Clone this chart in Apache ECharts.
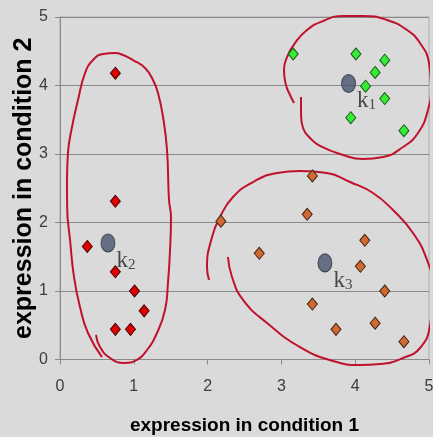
<!DOCTYPE html>
<html>
<head>
<meta charset="utf-8">
<script src="https://cdn.jsdelivr.net/npm/echarts@6/dist/echarts.min.js"></script>
<style>
  html, body { margin: 0; padding: 0; background: #dadada; }
  #chart { width: 433px; height: 437px; }
</style>
</head>
<body>
<div id="chart"></div>
<script>
// Axis ticks
const xTicks = [0, 1, 2, 3, 4, 5];
const yTicks = [0, 1, 2, 3, 4, 5];

// Genes per cluster: [expression in condition 1, expression in condition 2]
const cluster1 = [[3.16, 4.46], [4.01, 4.46], [4.40, 4.37], [4.27, 4.19], [4.14, 3.99],
                  [4.40, 3.81], [3.94, 3.53], [4.66, 3.34]];
const cluster2 = [[0.75, 4.18], [0.75, 2.31], [0.37, 1.65], [0.75, 1.28], [1.01, 1.00],
                  [1.14, 0.71], [0.75, 0.44], [0.955, 0.44]];
const cluster3 = [[3.42, 2.68], [3.35, 2.12], [2.18, 2.02], [2.70, 1.55], [4.13, 1.74],
                  [4.07, 1.36], [4.40, 1.00], [3.42, 0.81], [4.27, 0.53], [3.74, 0.44],
                  [4.66, 0.26]];

// Cluster centres k1..k3: [x, y, index]
const centroids = [[3.91, 4.03, '1'], [0.65, 1.70, '2'], [3.59, 1.41, '3']];

// Hand-drawn outlines around each cluster (data coordinates)
const outline1 = [[3.266, 3.832], [3.266, 3.569], [3.293, 3.380], [3.388, 3.234], [3.523, 3.117],
                  [3.835, 2.985], [4.106, 2.927], [4.377, 2.956], [4.648, 3.102], [4.851, 3.307],
                  [4.986, 3.642], [5.027, 3.978], [5.0, 4.328], [4.878, 4.620], [4.702, 4.810],
                  [4.431, 4.956], [4.106, 5.015], [3.835, 5.015], [3.564, 4.942], [3.347, 4.810],
                  [3.184, 4.620], [3.076, 4.416], [3.035, 4.226], [3.062, 4.007], [3.117, 3.861],
                  [3.171, 3.745]];
const outline2 = [[0.488, 0.358], [0.542, 0.182], [0.678, 0.022], [0.867, -0.05], [1.043, -0.007],
                  [1.179, 0.139], [1.314, 0.387], [1.423, 0.723], [1.463, 1.117], [1.491, 1.599],
                  [1.504, 2.080], [1.477, 2.328], [1.450, 3.058], [1.396, 3.540], [1.328, 3.891],
                  [1.260, 4.080], [1.152, 4.255], [0.989, 4.372], [0.854, 4.445], [0.745, 4.474],
                  [0.583, 4.460], [0.447, 4.372], [0.339, 4.182], [0.244, 3.788], [0.163, 3.394],
                  [0.108, 3.015], [0.095, 2.620], [0.097, 2.226], [0.136, 1.745], [0.190, 1.204],
                  [0.271, 0.766], [0.379, 0.387], [0.569, 0.036]];
const outline3 = [[2.019, 1.161], [1.992, 1.350], [2.060, 1.788], [2.168, 2.080], [2.344, 2.372],
                  [2.615, 2.591], [2.940, 2.723], [3.252, 2.752], [3.618, 2.723], [3.930, 2.591],
                  [4.241, 2.431], [4.512, 2.182], [4.783, 1.847], [4.973, 1.453], [5.054, 1.058],
                  [5.014, 0.504], [4.878, 0.168], [4.648, 0.022], [4.336, -0.066], [4.065, -0.080],
                  [3.699, -0.022], [3.252, 0.182], [2.805, 0.533], [2.480, 0.869], [2.331, 1.204],
                  [2.276, 1.496]];

const chart = echarts.init(document.getElementById('chart'));

function outlineSeries(data) {
  return {
    type: 'line', data: data, smooth: 0.5, showSymbol: false, symbol: 'none',
    clip: false, silent: true, z: 2,
    lineStyle: { color: '#c0122c', width: 2 }
  };
}

function pointSeries(data, fill, border) {
  return {
    type: 'scatter', data: data, symbol: 'diamond', symbolSize: [10, 12], z: 3,
    itemStyle: { color: fill, borderColor: border, borderWidth: 1, opacity: 1 }
  };
}

chart.setOption({
  animation: false,
  backgroundColor: '#dadada',
  grid: {
    left: 60, right: 4, top: 17, bottom: 77.5,
    outerBoundsMode: 'none', containLabel: false,
    show: true, backgroundColor: '#dadada', borderColor: '#ababab', borderWidth: 1
  },
  xAxis: {
    type: 'value', min: xTicks[0], max: xTicks[xTicks.length - 1], interval: 1,
    name: 'expression in condition 1', nameLocation: 'middle', nameGap: 57, nameMoveOverlap: false,
    nameTextStyle: { fontFamily: 'Liberation Sans', fontSize: 19, fontWeight: 'bold', color: '#000' },
    axisLine: { show: true, onZero: false, lineStyle: { color: '#8a8a8a', width: 1 } },
    axisTick: { show: true, inside: false, length: 5, lineStyle: { color: '#8a8a8a' } },
    axisLabel: { margin: 19, fontFamily: 'Liberation Sans', fontSize: 16, color: '#3c3c3c' },
    splitLine: { show: false }
  },
  yAxis: {
    type: 'value', min: yTicks[0], max: yTicks[yTicks.length - 1], interval: 1,
    name: 'expression in condition 2', nameLocation: 'middle', nameGap: 23, nameRotate: 90,
    nameMoveOverlap: false,
    nameTextStyle: { fontFamily: 'Liberation Sans', fontSize: 25, fontWeight: 'bold', color: '#000' },
    axisLine: { show: true, onZero: false, lineStyle: { color: '#8a8a8a', width: 1 } },
    axisTick: { show: true, inside: false, length: 5, lineStyle: { color: '#8a8a8a' } },
    axisLabel: { margin: 12, fontFamily: 'Liberation Sans', fontSize: 16, color: '#3c3c3c' },
    splitLine: { show: true, lineStyle: { color: '#8a8a8a', width: 1 } }
  },
  series: [
    outlineSeries(outline1),
    outlineSeries(outline2),
    outlineSeries(outline3),
    pointSeries(cluster1, '#33ee33', '#1c5a1c'),
    pointSeries(cluster2, '#dd0000', '#4a0000'),
    pointSeries(cluster3, '#d06a30', '#3d2412'),
    {
      type: 'scatter', data: centroids, symbol: 'circle', symbolSize: [14, 18], z: 4,
      itemStyle: { color: '#46546e', borderColor: '#262d3b', borderWidth: 1 },
      label: {
        show: true, position: 'right', distance: 1, offset: [0, 18],
        formatter: p => '{k|k}{s|' + p.value[2] + '}',
        rich: {
          k: { fontFamily: 'Liberation Serif', fontSize: 23, lineHeight: 23, color: '#222', verticalAlign: 'top' },
          s: { fontFamily: 'Liberation Serif', fontSize: 15, lineHeight: 15, color: '#222', verticalAlign: 'bottom', padding: [13, 0, 0, 0] }
        }
      }
    }
  ]
});
</script>
</body>
</html>
